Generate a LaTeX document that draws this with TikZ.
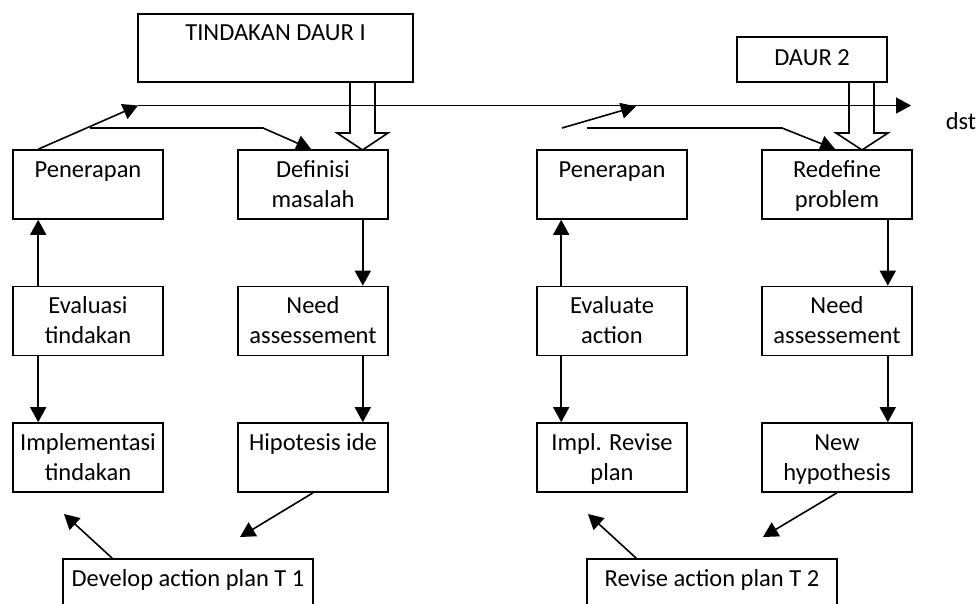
\documentclass[tikz,border=0pt]{standalone}
\usepackage{fontspec}
\setmainfont{Carlito}
\usetikzlibrary{arrows.meta}
\newcommand\ms{\rule[-7.5pt]{0pt}{30pt}}
\begin{document}
\begin{tikzpicture}[x=1pt,y=-1pt,
  box/.style={draw,line width=1.6pt,rectangle,minimum width=150pt,minimum height=69pt,inner sep=0pt,align=center,font=\fontsize{24.5}{30}\selectfont},
  arr/.style={line width=1.6pt,-{Triangle[length=15pt,width=16pt]}},
  barrow/.style={line width=1.6pt,line join=miter}]
\useasboundingbox (0,0) rectangle (979,603);
\clip (0,0) rectangle (979,603);
% top boxes
\node[box,minimum width=275pt,minimum height=68pt] (daur1) at (275.5,48) {\ms TINDAKAN DAUR I\\\ms};
\node[box,minimum width=150pt,minimum height=45pt] (daur2) at (812,59.5) {\raisebox{3pt}{DAUR 2}};
% cycle 1
\node[box] (pen1) at (88,184.5) {\ms Penerapan\\\ms};
\node[box] (def1) at (313,184.5) {\ms Definisi\\\ms masalah};
\node[box] (eva1) at (88,321) {\ms Evaluasi\\\ms tindakan};
\node[box] (need1) at (313,321) {\ms Need\\\ms assessement};
\node[box] (imp1) at (88,457.5) {\ms Implementasi\\\ms tindakan};
\node[box] (hip1) at (313,457.5) {\ms Hipotesis ide\\\ms};
\node[box,minimum width=250pt] (dev) at (188,593.5) {\ms Develop action plan T 1\\\ms};
% cycle 2
\node[box] (pen2) at (612,184.5) {\ms Penerapan\\\ms};
\node[box] (red2) at (837,184.5) {\ms Redefine\\\ms problem};
\node[box] (eva2) at (612,321) {\ms Evaluate\\\ms action};
\node[box] (need2) at (837,321) {\ms Need\\\ms assessement};
\node[box] (imp2) at (612,457.5) {\ms Impl. Revise\\\ms plan};
\node[box] (hyp2) at (837,457.5) {\ms New\\\ms hypothesis};
\node[box,minimum width=250pt] (rev) at (712,593.5) {\ms Revise action plan T 2\\\ms};
\node[font=\fontsize{24.5}{30}\selectfont,inner sep=0pt,anchor=base] (dst) at (961,129) {dst};
% coordinates
\coordinate (mainstart) at (138,105.5);
\coordinate (mainend) at (911,105.5);
\coordinate (b1) at (90,128);
\coordinate (c1) at (263,128);
\coordinate (a2) at (562,128);
\coordinate (m2) at (636,106.5);
\coordinate (b2) at (587,128);
\coordinate (c2) at (782,128);
\coordinate (d1) at (64,514);
\coordinate (e1) at (240,537);
\coordinate (d2) at (588,514);
\coordinate (e2) at (763,537);
% main line
\draw[arr] (mainstart) -- (mainend);
\draw[arr] ([xshift=26pt]pen1.north west) -- (mainstart);
\draw[arr] (b1) -- (c1) -- ([xshift=74pt]def1.north west);
\draw[arr] (a2) -- (m2);
\draw[arr] (b2) -- (c2) -- ([xshift=74pt]red2.north west);
% block arrows
\draw[barrow] (350,82) -- ++(0,51) -- ++(-13,0) -- (362.5,150) -- (388,133) -- ++(-13,0) -- ++(0,-51);
\draw[barrow] (849,82) -- ++(0,51) -- ++(-13,0) -- (862,150) -- (888,133) -- ++(-14,0) -- ++(0,-51);
% vertical arrows cycle 1
\draw[arr] ([xshift=26pt]eva1.north west) -- ([xshift=26pt]pen1.south west);
\draw[arr] ([xshift=26pt]eva1.south west) -- ([xshift=26pt]imp1.north west);
\draw[arr] ([xshift=-26pt]def1.south east) -- ([xshift=-26pt]need1.north east);
\draw[arr] ([xshift=-26pt]need1.south east) -- ([xshift=-26pt]hip1.north east);
% vertical arrows cycle 2
\draw[arr] ([xshift=25pt]eva2.north west) -- ([xshift=25pt]pen2.south west);
\draw[arr] ([xshift=25pt]eva2.south west) -- ([xshift=25pt]imp2.north west);
\draw[arr] ([xshift=-25pt]red2.south east) -- ([xshift=-25pt]need2.north east);
\draw[arr] ([xshift=-25pt]need2.south east) -- ([xshift=-25pt]hyp2.north east);
% bottom arrows
\draw[arr] ([xshift=50pt]dev.north west) -- (d1);
\draw[arr] (hip1.south) -- (e1);
\draw[arr] ([xshift=50pt]rev.north west) -- (d2);
\draw[arr] (hyp2.south) -- (e2);
\end{tikzpicture}
\end{document}
